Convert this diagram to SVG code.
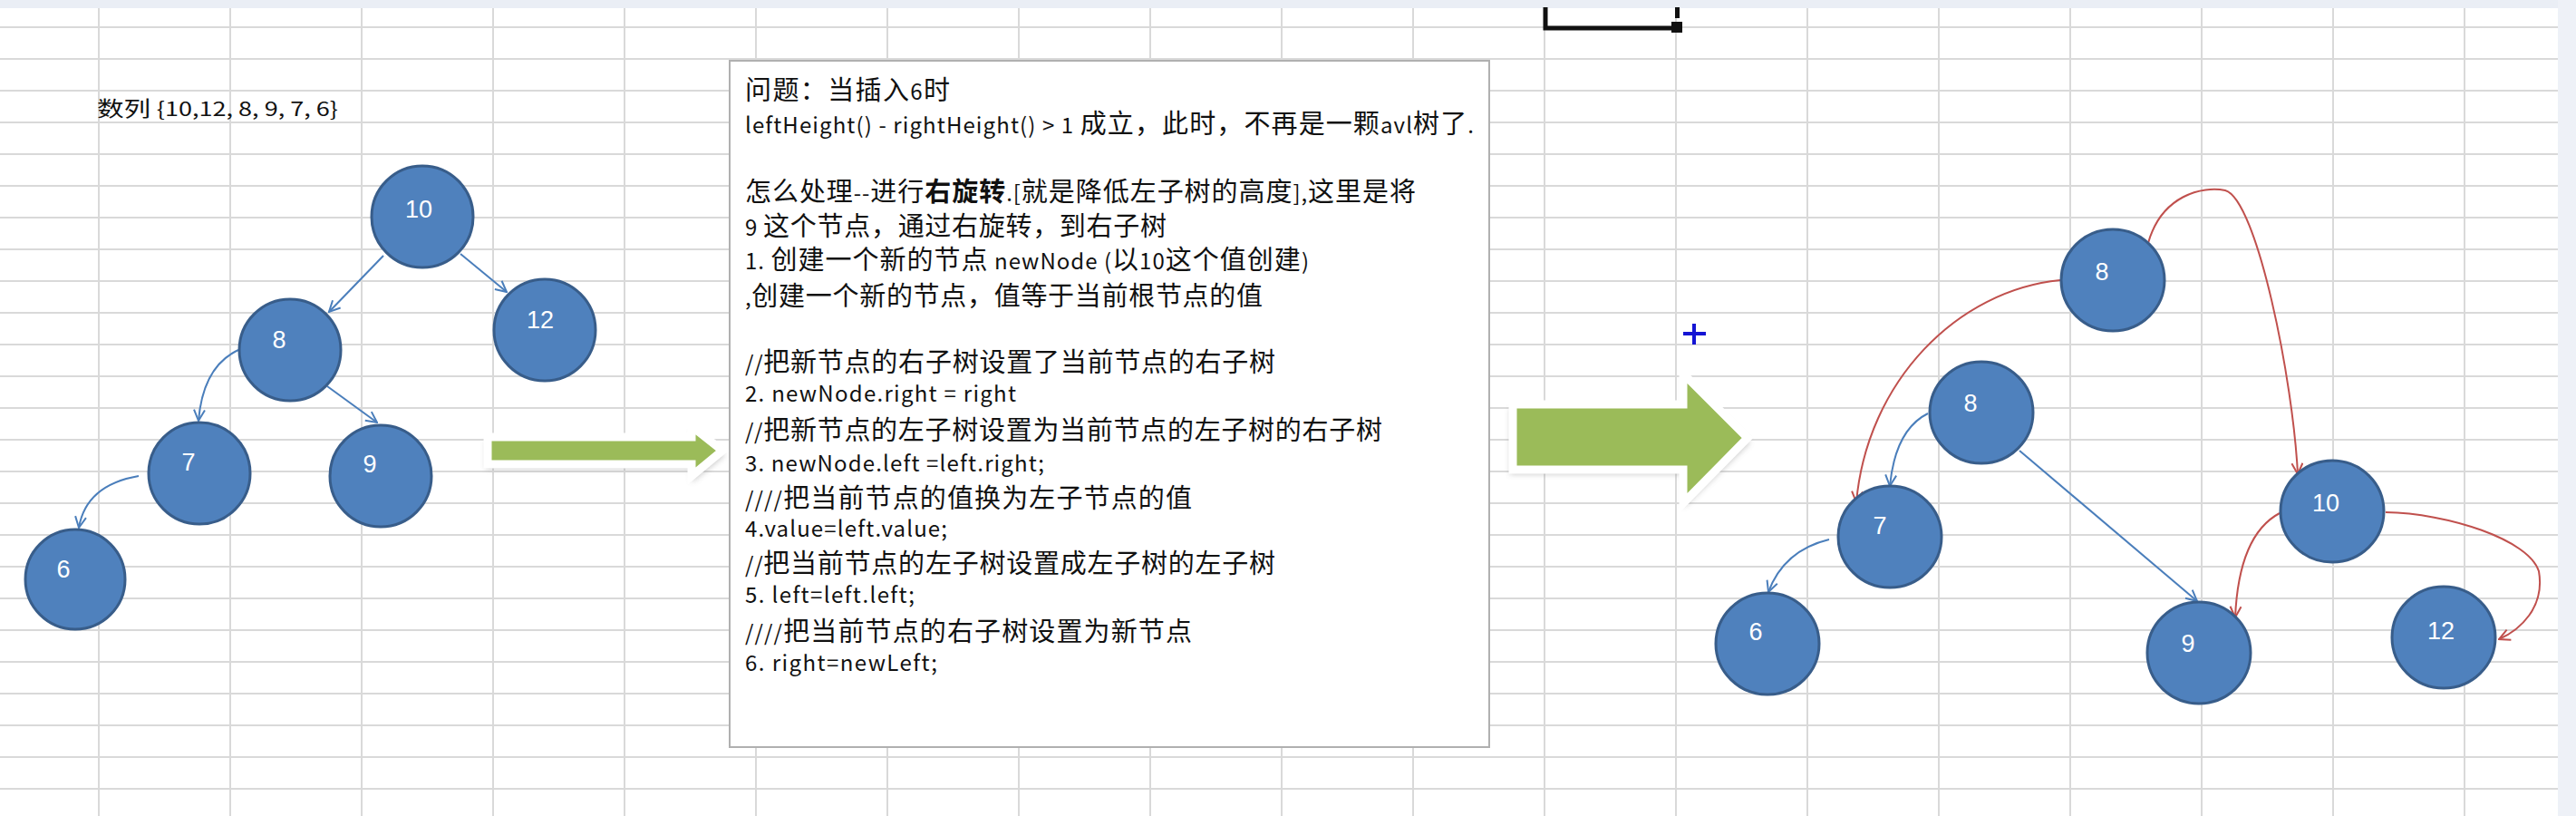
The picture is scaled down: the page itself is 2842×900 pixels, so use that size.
<svg xmlns="http://www.w3.org/2000/svg" width="2842" height="900" viewBox="0 0 2842 900">
<style>
.grid{stroke:#d9d9d9;stroke-width:2;fill:none}
.node ellipse{fill:#4f81bd;stroke:#385d8a;stroke-width:3}
.node text{fill:#ffffff;font-family:"Liberation Sans",Arial,sans-serif;font-size:27px;text-anchor:middle}
.eb{fill:none;stroke:#4a7ebb;stroke-width:2;marker-end:url(#ab)}
.er{fill:none;stroke:#c0504d;stroke-width:2;marker-end:url(#ar)}
.t{font-family:"Noto Sans CJK SC","Noto Sans CJK JP",sans-serif;font-size:29px;fill:#111}
.l{font-size:24px}
.b{font-weight:bold}
.garrow{fill:#9bbb59;stroke:#ffffff;stroke-width:9;stroke-linejoin:miter}
</style>
<defs>
<marker id="ab" viewBox="0 0 14 14" refX="13" refY="7" markerWidth="14" markerHeight="14" markerUnits="userSpaceOnUse" orient="auto">
<path d="M1,1 L13,7 L1,13" fill="none" stroke="#4a7ebb" stroke-width="2"/>
</marker>
<marker id="ar" viewBox="0 0 14 14" refX="13" refY="7" markerWidth="14" markerHeight="14" markerUnits="userSpaceOnUse" orient="auto">
<path d="M1,1 L13,7 L1,13" fill="none" stroke="#c0504d" stroke-width="2"/>
</marker>
<filter id="sh" x="-10%" y="-20%" width="130%" height="150%">
<feGaussianBlur stdDeviation="3"/>
</filter>
</defs>
<rect x="0" y="0" width="2842" height="900" fill="#ffffff"/>
<g id="grid">
<path class="grid" d="M0,30H2822M0,65H2822M0,100H2822M0,135H2822M0,170H2822M0,205H2822M0,240H2822M0,275H2822M0,310H2822M0,345H2822M0,380H2822M0,415H2822M0,450H2822M0,485H2822M0,520H2822M0,555H2822M0,590H2822M0,625H2822M0,660H2822M0,695H2822M0,730H2822M0,765H2822M0,800H2822M0,835H2822M0,870H2822"/>
<path class="grid" d="M109,9V900M254,9V900M399,9V900M544,9V900M689,9V900M834,9V900M979,9V900M1124,9V900M1269,9V900M1414,9V900M1559,9V900M1704,9V900M1849,9V900M1994,9V900M2139,9V900M2284,9V900M2429,9V900M2574,9V900M2719,9V900"/>
<rect x="0" y="0" width="2842" height="9" fill="#eaeef5"/>
<rect x="2822" y="0" width="20" height="900" fill="#eef1f7"/>
</g>
<g id="selection">
<path d="M1705,8 V31 H1845" fill="none" stroke="#111" stroke-width="5"/>
<rect x="1844" y="24" width="12" height="12" fill="#111"/>
<rect x="1848" y="8" width="5" height="12" fill="#111"/>
</g>
<text id="title" class="t" x="107" y="128" style="font-size:23px" textLength="266" lengthAdjust="spacingAndGlyphs">数列 <tspan style="font-size:21px">{10,12, 8, 9, 7, 6}</tspan></text>
<g id="textbox">
<rect x="805" y="67" width="838" height="757" fill="#ffffff" stroke="#b0b0b0" stroke-width="2"/>
<text class="t" x="822" y="110" textLength="226">问题：当插入<tspan class="l">6</tspan>时</text>
<text class="t" x="822" y="147" textLength="804"><tspan class="l">leftHeight() - rightHeight() &gt; 1 </tspan>成立，此时，不再是一颗<tspan class="l">avl</tspan>树了<tspan class="l">.</tspan></text>
<text class="t" x="822" y="222" textLength="740">怎么处理<tspan class="l">--</tspan>进行<tspan class="b">右旋转</tspan><tspan class="l">.[</tspan>就是降低左子树的高度<tspan class="l">],</tspan>这里是将</text>
<text class="t" x="822" y="260" textLength="465"><tspan class="l">9 </tspan>这个节点，通过右旋转，到右子树</text>
<text class="t" x="822" y="297" textLength="622"><tspan class="l">1. </tspan>创建一个新的节点<tspan class="l"> newNode (</tspan>以<tspan class="l">10</tspan>这个值创建<tspan class="l">)</tspan></text>
<text class="t" x="822" y="337" textLength="571"><tspan class="l">,</tspan>创建一个新的节点，值等于当前根节点的值</text>
<text class="t" x="822" y="410" textLength="585"><tspan class="l">//</tspan>把新节点的右子树设置了当前节点的右子树</text>
<text class="t l" x="822" y="443" textLength="299">2. newNode.right = right</text>
<text class="t" x="822" y="485" textLength="703"><tspan class="l">//</tspan>把新节点的左子树设置为当前节点的左子树的右子树</text>
<text class="t l" x="822" y="520" textLength="330">3. newNode.left =left.right;</text>
<text class="t" x="822" y="560" textLength="493"><tspan class="l">////</tspan>把当前节点的值换为左子节点的值</text>
<text class="t l" x="822" y="592" textLength="223">4.value=left.value;</text>
<text class="t" x="822" y="632" textLength="585"><tspan class="l">//</tspan>把当前节点的左子树设置成左子树的左子树</text>
<text class="t l" x="822" y="665" textLength="187">5. left=left.left;</text>
<text class="t" x="822" y="707" textLength="493"><tspan class="l">////</tspan>把当前节点的右子树设置为新节点</text>
<text class="t l" x="822" y="740" textLength="212">6. right=newLeft;</text>
</g>
<g id="arrow1">
<polygon points="536,487 763,487 763,475 800,502 763,532 763,517 536,517" fill="#888" opacity="0.45" filter="url(#sh)"/>
<polygon class="garrow" points="538,482 763,482 763,470 797,497 763,525 763,512 538,512"/>
</g>
<g id="arrow2">
<polygon points="1666,451 1857,451 1857,417 1931,488 1857,560 1857,523 1666,523" fill="#888" opacity="0.45" filter="url(#sh)"/>
<polygon class="garrow" points="1669,446 1857,446 1857,412 1928,483 1857,555 1857,518 1669,518"/>
</g>
<g id="cursor">
<path d="M1857,368 H1882 M1869,357 V380" stroke="#1414d4" stroke-width="4" fill="none"/>
</g>
<g id="connectors">
<path class="eb" d="M423,282 L363,344"/>
<path class="eb" d="M508,280 L559,322"/>
<path class="eb" d="M263,386 Q224,404 219,464"/>
<path class="eb" d="M361,426 L416,466"/>
<path class="eb" d="M153,525 Q95,535 87,582"/>
<path class="eb" d="M2127,456 Q2091,474 2085,536"/>
<path class="eb" d="M2228,497 L2424,663"/>
<path class="eb" d="M2018,595 Q1968,607 1951,653"/>
<path class="er" d="M2273,309 C2160,320 2060,420 2048,554"/>
<path class="er" d="M2370,268 C2385,215 2430,205 2455,210 C2490,220 2530,420 2535,523"/>
<path class="er" d="M2515,566 Q2470,590 2466,681"/>
<path class="er" d="M2632,565 C2700,566 2790,595 2801,630 C2808,670 2780,695 2757,705"/>
</g>
<g id="n10a" class="node"><ellipse cx="466" cy="239" rx="56" ry="56"/><text x="462" y="240">10</text></g>
<g id="n12a" class="node"><ellipse cx="601" cy="364" rx="56" ry="56"/><text x="596" y="362">12</text></g>
<g id="n8a" class="node"><ellipse cx="320" cy="386" rx="56" ry="56"/><text x="308" y="384">8</text></g>
<g id="n7a" class="node"><ellipse cx="220" cy="522" rx="56" ry="56"/><text x="208" y="519">7</text></g>
<g id="n9a" class="node"><ellipse cx="420" cy="525" rx="56" ry="56"/><text x="408" y="521">9</text></g>
<g id="n6a" class="node"><ellipse cx="83" cy="639" rx="55" ry="55"/><text x="70" y="637">6</text></g>
<g id="n8top" class="node"><ellipse cx="2331" cy="309" rx="57" ry="56"/><text x="2319" y="309">8</text></g>
<g id="n8mid" class="node"><ellipse cx="2186" cy="455" rx="57" ry="56"/><text x="2174" y="454">8</text></g>
<g id="n7b" class="node"><ellipse cx="2085" cy="592" rx="57" ry="56"/><text x="2074" y="589">7</text></g>
<g id="n6b" class="node"><ellipse cx="1950" cy="710" rx="57" ry="56"/><text x="1937" y="706">6</text></g>
<g id="n10b" class="node"><ellipse cx="2573" cy="564" rx="57" ry="56"/><text x="2566" y="564">10</text></g>
<g id="n9b" class="node"><ellipse cx="2426" cy="720" rx="57" ry="56"/><text x="2414" y="719">9</text></g>
<g id="n12b" class="node"><ellipse cx="2696" cy="703" rx="57" ry="56"/><text x="2693" y="705">12</text></g>
</svg>
